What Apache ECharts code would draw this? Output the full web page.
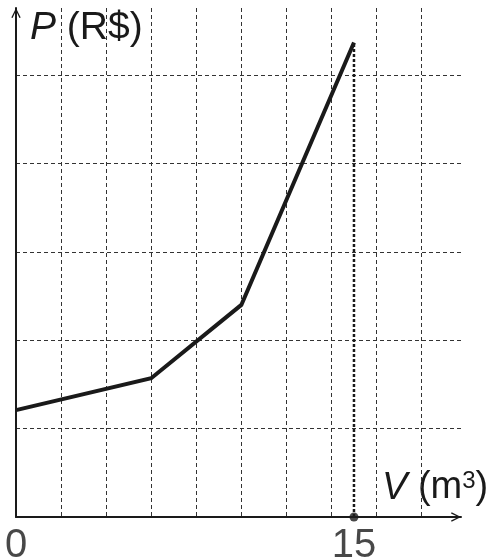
<!DOCTYPE html>
<html>
<head>
<meta charset="utf-8">
<script src="https://cdn.jsdelivr.net/npm/echarts@6/dist/echarts.min.js"></script>
<style>
  html, body { margin: 0; padding: 0; background: #fff; }
  #main { width: 497px; height: 560px; }
</style>
</head>
<body>
<div id="main"></div>
<script>
// V (m³) and P (R$) (P in grid units)
const volume = [0, 6, 10, 15];
const price = [1.21, 1.57, 2.4, 5.37];
// marked point on the V axis
const markedV = 15;
const originLabel = '0';

const chevron = 'path://M0,12 L6,0 L12,12 L10.4,12.8 L6,3.6 L1.6,12.8 Z';
const gridDash = { color: '#333', width: 1, type: [4, 3] };
const ink = '#1a1a1a';
const font = 'Liberation Sans';

const chart = echarts.init(document.getElementById('main'));

const axisLine = {
    show: true,
    onZero: false,
    symbol: ['none', chevron],
    symbolSize: [14, 10],
    symbolOffset: [0, -5],
    lineStyle: { color: ink, width: 2 }
};

const option = {
    animation: false,
    backgroundColor: '#fff',
    grid: { left: 16, right: 36, top: 8, bottom: 43 },
    xAxis: {
        type: 'value',
        min: 0,
        max: 19.75,
        interval: 2,
        axisLine: axisLine,
        axisTick: { show: false },
        axisLabel: { show: false },
        splitLine: { show: true, showMinLine: false, showMaxLine: false, lineStyle: gridDash }
    },
    yAxis: {
        type: 'value',
        min: 0,
        max: 5.76,
        interval: 1,
        axisLine: axisLine,
        axisTick: { show: false },
        axisLabel: { show: false },
        splitLine: { show: true, showMinLine: false, showMaxLine: false, lineStyle: gridDash }
    },
    series: [
        {
            // dotted guide at V = 15
            type: 'line',
            data: [[markedV, 0], [markedV, price[price.length - 1]]],
            symbol: 'none',
            lineStyle: { color: ink, width: 2.5, type: [3, 2] },
            z: 3
        },
        {
            type: 'line',
            data: volume.map((v, i) => [v, price[i]]),
            symbol: 'none',
            lineStyle: { color: ink, width: 4, join: 'miter' },
            z: 5
        },
        {
            type: 'scatter',
            data: [[markedV, 0]],
            symbol: 'circle',
            symbolSize: 9,
            itemStyle: { color: ink },
            label: {
                show: true,
                position: 'bottom',
                distance: 4,
                formatter: String(markedV),
                color: ink,
                fontFamily: font,
                fontSize: 40
            },
            z: 6
        },
        {
            type: 'scatter',
            data: [[0, 0]],
            symbolSize: 0,
            label: {
                show: true,
                position: 'bottom',
                distance: 9,
                formatter: originLabel,
                color: ink,
                fontFamily: font,
                fontSize: 40
            }
        }
    ],
    graphic: [
        {
            type: 'text',
            left: 26,
            top: 7,
            style: {
                text: '{i|P} (R$)',
                fontFamily: font,
                fontSize: 39,
                fill: ink,
                backgroundColor: '#fff',
                padding: [2, 4, 6, 4],
                rich: { i: { fontStyle: 'italic', fontFamily: font, fontSize: 39, fill: ink } }
            }
        },
        {
            type: 'text',
            left: 374,
            top: 461,
            style: {
                text: '{i|V} (m{s|3})',
                fontFamily: font,
                fontSize: 38,
                fill: ink,
                backgroundColor: '#fff',
                padding: [8, 4, 2, 8],
                rich: {
                    i: { fontStyle: 'italic', fontFamily: font, fontSize: 38, fill: ink },
                    s: { fontFamily: font, fontSize: 24, fill: ink, padding: [0, 0, 14, 0] }
                }
            }
        }
    ]
};

chart.setOption(option);
</script>
</body>
</html>
